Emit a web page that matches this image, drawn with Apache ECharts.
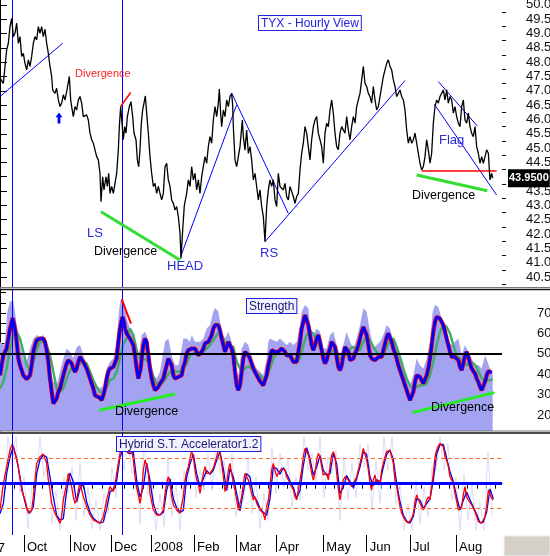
<!DOCTYPE html>
<html>
<head>
<meta charset="utf-8">
<title>TYX - Hourly View</title>
<style>
html, body { margin: 0; padding: 0; background: #fff; }
#main { width: 550px; height: 556px; }
</style>
<script src="https://cdn.jsdelivr.net/npm/echarts/dist/echarts.min.js"></script>
</head>
<body>
<div id="main"></div>
<script>
// x 轴单位：小时K线序号（0 ~ 1506）

// 价格（TYX 小时收盘）
var price = [[0,47.44],[10,47.26],[20,48.43],[25,48.66],[30,49.24],[35,49.53],[40,48.89],[45,49.01],[50,49.36],[55,48.66],[60,48.89],[65,48.20],[70,48.31],[75,47.96],[80,47.73],[85,48.08],[90,47.85],[95,48.20],[100,48.66],[105,48.89],[110,48.78],[115,49.24],[120,49.01],[125,49.24],[130,48.89],[135,49.15],[140,48.66],[145,48.31],[150,47.85],[155,47.50],[158,47.03],[165,46.91],[170,47.09],[175,46.68],[180,46.45],[185,46.57],[190,46.86],[195,46.68],[200,46.97],[205,47.03],[208,47.50],[212,46.68],[215,46.45],[220,46.10],[225,46.45],[230,46.33],[235,46.68],[240,46.80],[245,46.57],[250,46.10],[255,46.16],[260,46.16],[265,45.98],[270,45.52],[275,45.29],[280,45.17],[285,44.94],[290,44.70],[295,44.59],[300,44.12],[303,43.13],[308,44.00],[312,43.54],[318,44.00],[322,43.66],[326,44.12],[330,43.42],[335,43.66],[340,43.42],[345,43.77],[350,44.12],[355,44.94],[358,45.75],[362,46.45],[366,45.87],[370,45.29],[374,45.75],[378,45.52],[382,46.10],[388,46.45],[393,46.62],[398,46.10],[402,45.52],[408,45.29],[412,44.59],[416,44.35],[420,44.94],[424,45.87],[428,46.33],[432,46.57],[436,46.82],[440,46.22],[445,45.52],[450,44.70],[455,44.12],[460,43.66],[465,43.77],[470,43.42],[475,43.66],[480,43.42],[485,43.19],[490,43.42],[495,44.35],[500,44.47],[505,43.89],[510,43.66],[515,43.19],[520,43.07],[525,42.84],[530,42.96],[535,42.61],[540,42.03],[543,41.15],[548,42.14],[553,43.00],[560,43.42],[565,43.89],[570,43.66],[575,44.35],[580,43.89],[585,44.12],[590,43.54],[595,43.89],[600,43.42],[605,44.00],[610,44.35],[615,44.70],[620,44.47],[625,45.05],[630,45.40],[635,45.17],[640,45.98],[645,46.45],[650,46.10],[655,46.57],[658,47.06],[662,46.20],[665,45.75],[670,46.33],[675,46.10],[680,46.68],[685,46.45],[690,46.80],[695,46.91],[698,46.50],[700,45.75],[705,44.59],[710,44.35],[715,44.70],[720,45.05],[727,45.98],[730,45.40],[735,44.93],[740,45.63],[745,44.82],[750,45.05],[755,44.59],[760,43.89],[765,44.12],[770,43.66],[775,43.19],[780,43.54],[785,42.96],[790,42.61],[795,41.73],[800,42.96],[805,43.54],[810,43.89],[815,43.66],[820,43.89],[825,43.19],[830,42.96],[835,44.12],[840,43.66],[845,43.66],[850,43.54],[855,43.77],[860,43.31],[865,43.19],[870,43.66],[875,43.66],[880,43.31],[885,43.07],[890,43.31],[895,43.42],[900,44.24],[905,44.82],[910,45.17],[915,45.75],[920,45.52],[925,45.05],[930,44.59],[935,45.29],[940,45.75],[945,45.98],[950,46.10],[955,45.52],[960,45.29],[965,45.05],[970,44.47],[975,45.52],[980,45.87],[985,45.75],[990,46.33],[995,46.68],[1000,46.22],[1005,45.52],[1010,45.05],[1015,44.94],[1020,45.52],[1025,45.75],[1030,45.75],[1035,45.52],[1040,46.10],[1045,45.63],[1050,45.29],[1055,45.75],[1060,46.10],[1065,45.87],[1070,46.45],[1075,46.68],[1080,46.91],[1085,47.38],[1090,47.85],[1095,47.26],[1100,47.15],[1105,46.91],[1110,46.80],[1115,46.57],[1120,47.15],[1125,46.68],[1130,46.33],[1135,46.45],[1140,46.80],[1145,47.15],[1150,47.50],[1155,47.73],[1160,47.96],[1165,48.08],[1170,47.85],[1175,47.73],[1180,47.38],[1185,47.15],[1190,46.80],[1195,46.91],[1200,47.03],[1205,46.80],[1210,46.68],[1215,46.33],[1220,45.63],[1225,45.17],[1230,45.40],[1235,45.17],[1240,45.29],[1245,45.52],[1250,45.17],[1255,44.82],[1260,44.47],[1265,44.24],[1270,44.35],[1275,44.70],[1280,45.29],[1285,44.94],[1290,44.47],[1295,44.82],[1300,45.87],[1305,46.45],[1310,46.68],[1315,46.57],[1320,46.80],[1325,46.91],[1330,47.03],[1335,46.68],[1340,47.03],[1345,46.57],[1350,46.80],[1355,46.68],[1360,46.22],[1365,46.45],[1370,46.10],[1375,45.87],[1380,45.75],[1385,46.45],[1390,46.68],[1395,45.98],[1400,45.87],[1405,46.22],[1410,45.75],[1415,45.52],[1420,45.40],[1425,45.75],[1430,45.05],[1435,44.82],[1440,44.47],[1445,44.70],[1450,44.47],[1455,44.70],[1460,44.94],[1465,44.82],[1470,43.89],[1475,44.12],[1478,43.95]];
var lastPrice = 43.95;

// Strength 指标
var strengthArea = [[0,55.9],[10,54.3],[15,55.9],[22,70.6],[30,75.8],[40,75.8],[45,70.6],[50,64.1],[60,54.3],[70,47.7],[80,46.1],[90,52.6],[100,57.5],[110,59.2],[120,58.3],[130,59.2],[140,52.6],[150,44.4],[160,36.3],[170,34.6],[180,41.2],[190,47.7],[200,52.6],[210,51.0],[220,47.7],[230,53.4],[240,54.3],[250,49.3],[260,44.4],[270,41.2],[280,37.9],[290,34.6],[300,33.0],[310,34.6],[320,42.8],[330,46.1],[340,47.7],[350,55.9],[355,67.3],[360,75.5],[368,77.1],[375,73.9],[380,67.3],[390,62.4],[400,59.2],[410,51.0],[415,47.7],[425,59.2],[435,60.8],[440,59.2],[450,47.7],[460,39.5],[470,37.9],[480,41.2],[490,51.0],[495,55.9],[505,57.5],[515,49.3],[525,44.4],[535,44.4],[545,52.6],[550,57.5],[560,57.5],[570,55.9],[575,59.2],[585,55.9],[600,55.9],[610,57.5],[620,62.4],[630,64.1],[640,70.6],[645,72.6],[655,70.6],[665,60.8],[675,57.5],[685,60.8],[695,55.9],[705,44.4],[715,39.5],[725,52.6],[735,55.9],[745,54.3],[750,51.0],[760,46.1],[770,42.8],[780,41.2],[790,39.5],[800,47.7],[805,55.9],[810,57.5],[820,56.7],[830,55.9],[840,57.5],[850,55.9],[860,54.3],[870,55.9],[880,54.3],[890,55.9],[900,64.1],[905,70.6],[915,73.9],[925,72.2],[930,64.1],[940,59.2],[950,62.4],[960,60.8],[970,52.6],[980,52.6],[990,59.2],[1000,60.8],[1010,54.3],[1020,49.3],[1030,54.3],[1040,60.8],[1050,55.9],[1060,52.6],[1070,57.5],[1080,64.1],[1090,72.2],[1100,70.6],[1110,60.8],[1120,52.6],[1130,54.3],[1140,55.9],[1150,59.2],[1160,64.1],[1170,62.4],[1180,55.9],[1190,52.6],[1200,47.7],[1210,44.4],[1220,39.5],[1230,34.6],[1240,39.5],[1250,47.7],[1260,44.4],[1270,42.8],[1280,47.7],[1290,55.9],[1298,70.6],[1305,73.9],[1315,73.0],[1325,67.3],[1335,60.8],[1345,55.9],[1355,54.3],[1365,55.9],[1375,57.5],[1385,49.3],[1395,54.3],[1405,51.0],[1415,47.7],[1425,44.4],[1435,44.4],[1445,42.8],[1455,49.3],[1460,48.5],[1470,42.8],[1478,41.2]];
var strengthFast = [[0,39.5],[10,49.3],[20,52.6],[30,62.4],[38,67.6],[45,62.4],[50,55.9],[55,47.7],[60,44.4],[70,39.5],[80,37.6],[90,39.5],[95,44.4],[100,51.0],[105,54.3],[110,56.7],[120,57.5],[130,57.5],[135,55.9],[140,51.8],[145,46.1],[150,37.9],[155,31.4],[160,25.7],[165,25.7],[170,28.1],[175,31.4],[180,33.0],[190,39.5],[200,45.3],[205,46.9],[210,46.4],[215,45.3],[220,42.8],[225,41.2],[230,42.8],[235,46.1],[240,48.5],[245,49.3],[250,46.1],[260,42.8],[270,37.9],[280,33.0],[285,29.7],[290,28.9],[300,28.4],[305,27.3],[310,29.7],[315,33.0],[320,37.9],[325,41.2],[330,42.8],[335,42.8],[340,43.6],[345,44.4],[350,47.7],[355,55.9],[360,62.4],[365,66.5],[368,68.1],[372,65.7],[375,62.4],[380,60.0],[385,59.2],[390,57.5],[395,55.9],[400,54.3],[405,49.3],[410,42.8],[415,37.9],[418,37.1],[422,42.8],[425,47.7],[430,54.3],[435,57.5],[440,55.9],[445,49.3],[450,42.8],[455,37.9],[460,34.6],[465,32.2],[470,32.2],[475,33.8],[480,35.5],[485,36.3],[490,37.9],[495,41.2],[500,44.4],[505,47.7],[510,47.7],[515,44.4],[520,39.5],[525,37.9],[530,38.7],[535,38.7],[540,37.9],[545,39.5],[550,43.6],[555,46.1],[560,50.2],[565,51.8],[570,52.6],[575,52.6],[580,53.4],[585,52.6],[590,51.0],[595,49.3],[600,49.3],[605,51.0],[610,52.6],[615,55.1],[620,55.9],[625,55.9],[630,57.5],[635,59.2],[640,62.4],[645,64.1],[650,64.9],[655,64.1],[660,61.6],[665,57.5],[670,54.3],[675,51.0],[680,51.8],[685,55.9],[690,56.7],[695,52.6],[700,49.3],[705,41.2],[710,34.6],[715,32.2],[720,34.6],[725,41.2],[730,47.7],[735,51.0],[740,51.8],[745,49.3],[750,47.7],[760,42.8],[770,39.5],[780,36.6],[790,34.6],[795,35.5],[800,39.5],[805,44.4],[810,47.7],[815,51.8],[820,52.6],[825,51.0],[830,51.0],[835,51.0],[840,51.8],[845,52.6],[850,51.8],[855,51.0],[860,49.3],[865,48.5],[870,49.3],[875,47.7],[880,46.1],[885,45.3],[890,46.1],[895,51.0],[900,55.9],[905,62.4],[910,65.7],[915,69.0],[920,68.1],[925,64.1],[930,59.2],[935,54.3],[940,51.8],[945,54.3],[950,57.5],[955,59.2],[960,55.9],[965,51.8],[970,47.7],[975,45.3],[980,46.9],[985,50.2],[990,52.6],[995,55.9],[1000,55.9],[1005,53.4],[1010,48.5],[1015,43.6],[1020,42.0],[1025,44.4],[1030,49.3],[1035,53.4],[1040,54.3],[1045,51.0],[1050,46.9],[1055,46.1],[1060,47.7],[1065,50.2],[1070,51.8],[1075,54.3],[1080,57.5],[1085,60.8],[1090,63.2],[1095,62.4],[1100,59.2],[1105,54.3],[1110,49.3],[1115,47.7],[1120,47.7],[1125,46.9],[1130,47.7],[1135,48.5],[1140,47.7],[1145,48.5],[1150,51.8],[1155,55.1],[1160,58.3],[1165,60.0],[1170,59.2],[1175,55.9],[1180,52.6],[1185,50.2],[1190,47.7],[1195,44.4],[1200,42.0],[1205,39.5],[1210,37.1],[1215,34.6],[1220,32.2],[1225,29.7],[1230,27.3],[1235,27.3],[1240,31.4],[1245,36.3],[1250,39.5],[1255,40.4],[1260,38.7],[1265,37.1],[1270,35.5],[1275,36.3],[1280,39.5],[1285,42.8],[1290,47.7],[1295,54.3],[1300,60.8],[1305,65.7],[1310,68.1],[1315,68.1],[1320,67.3],[1325,65.7],[1330,64.1],[1335,60.8],[1340,57.5],[1345,54.3],[1350,51.0],[1355,48.5],[1360,47.7],[1365,48.5],[1370,49.3],[1375,46.9],[1380,43.6],[1385,42.0],[1390,45.3],[1395,49.3],[1400,51.0],[1405,48.5],[1410,45.3],[1415,42.8],[1420,42.0],[1425,40.4],[1430,37.9],[1435,36.3],[1440,33.8],[1445,32.2],[1450,33.0],[1455,36.3],[1460,39.5],[1465,41.5],[1470,41.2],[1475,40.9]];
var strengthSlow = [[0,33.0],[10,36.3],[20,42.8],[30,52.6],[40,59.2],[50,60.8],[60,57.5],[70,51.0],[80,44.4],[90,42.0],[100,46.1],[110,51.8],[120,55.9],[130,55.9],[140,54.3],[150,49.3],[160,41.2],[170,33.0],[180,31.4],[190,33.0],[200,37.9],[210,42.0],[220,43.6],[230,43.6],[240,45.3],[250,46.1],[260,45.3],[270,41.2],[280,37.1],[290,33.8],[300,31.4],[310,30.6],[320,33.8],[330,37.1],[340,37.9],[350,41.2],[360,47.7],[370,55.1],[380,57.5],[390,62.4],[395,62.4],[400,59.2],[410,51.8],[420,47.7],[430,47.7],[440,46.9],[450,44.4],[460,38.7],[470,35.5],[480,34.6],[490,36.3],[500,38.7],[510,41.2],[520,42.0],[530,41.2],[540,41.2],[550,42.8],[560,45.3],[570,49.3],[580,50.2],[590,51.0],[600,50.2],[610,51.0],[620,52.6],[630,54.3],[640,56.7],[650,59.2],[660,60.8],[670,57.5],[680,53.4],[690,54.3],[700,53.4],[710,46.1],[720,42.8],[730,42.0],[740,43.6],[750,43.6],[760,42.0],[770,40.4],[780,39.5],[790,37.6],[800,37.9],[810,42.8],[820,47.7],[830,50.2],[840,50.2],[850,50.2],[860,50.2],[870,49.3],[880,47.7],[890,46.1],[900,47.7],[910,54.3],[920,59.2],[930,60.8],[940,60.0],[950,56.7],[960,53.4],[970,50.2],[980,47.7],[990,50.2],[1000,51.8],[1010,51.0],[1020,47.7],[1030,47.7],[1040,51.0],[1050,52.6],[1060,53.4],[1070,51.8],[1080,51.8],[1090,55.9],[1100,59.2],[1110,56.7],[1120,53.4],[1130,51.0],[1140,49.3],[1150,49.3],[1160,53.4],[1170,56.7],[1180,57.5],[1190,53.4],[1200,48.5],[1210,42.8],[1220,37.9],[1230,34.6],[1240,33.0],[1250,33.8],[1260,34.6],[1270,34.6],[1280,35.5],[1290,39.5],[1300,46.1],[1310,54.3],[1320,60.8],[1330,64.1],[1340,63.2],[1350,60.0],[1360,54.3],[1370,49.3],[1380,47.7],[1390,46.1],[1400,44.4],[1410,46.1],[1420,45.3],[1430,43.6],[1440,39.5],[1450,37.1],[1460,37.1],[1470,37.1],[1478,37.6]];

// Hybrid S.T. Accelerator 1.2（无刻度，虚线位于 ±75）
var hybridRed = [[0,-79],[10,1],[20,51],[30,101],[37,119],[45,91],[55,51],[65,-19],[75,-49],[85,-89],[90,-84],[95,-79],[100,-39],[105,11],[110,61],[120,81],[130,89],[135,86],[140,61],[145,11],[150,-19],[155,-59],[165,-89],[175,-109],[180,-119],[185,-99],[190,-49],[200,1],[205,31],[210,36],[215,-9],[220,-39],[225,-59],[230,-49],[235,-19],[240,1],[245,1],[250,-39],[260,-69],[270,-94],[280,-109],[290,-114],[300,-119],[305,-124],[310,-99],[320,-49],[330,-9],[335,-14],[340,-24],[345,-4],[350,31],[355,61],[360,91],[365,106],[370,101],[375,101],[380,96],[385,91],[390,91],[395,101],[400,71],[405,21],[410,-14],[415,-34],[420,-59],[425,-29],[430,41],[435,71],[440,56],[445,31],[450,-29],[455,-54],[460,-79],[470,-94],[475,-94],[480,-94],[490,-79],[495,-29],[500,1],[505,21],[510,1],[515,-39],[520,-64],[525,-69],[530,-79],[540,-89],[545,-94],[550,-39],[555,11],[560,36],[565,51],[570,76],[575,96],[580,81],[585,41],[590,11],[595,1],[600,-29],[605,1],[610,31],[615,51],[620,31],[625,26],[630,31],[635,36],[640,46],[650,81],[655,101],[660,91],[665,61],[670,21],[675,-24],[680,-4],[685,41],[690,61],[695,31],[700,1],[705,-19],[710,-49],[715,-79],[720,-84],[725,-39],[730,1],[735,31],[740,36],[745,11],[750,11],[755,-29],[760,-49],[765,-39],[770,-59],[775,-69],[780,-79],[785,-84],[790,-89],[795,-109],[800,-69],[805,-49],[810,-9],[815,41],[820,61],[825,66],[830,21],[835,31],[840,31],[845,46],[850,51],[855,41],[860,21],[865,11],[870,6],[875,-9],[880,-19],[885,-39],[890,-49],[895,-19],[900,11],[905,41],[910,81],[915,106],[920,111],[925,86],[930,61],[935,31],[940,11],[945,31],[950,71],[955,91],[960,81],[965,51],[970,26],[975,21],[980,31],[985,11],[990,51],[995,86],[1000,96],[1005,81],[1010,31],[1015,-14],[1020,-49],[1025,-19],[1030,11],[1035,21],[1040,26],[1045,11],[1050,1],[1055,-9],[1060,-14],[1065,11],[1070,21],[1075,41],[1080,61],[1085,81],[1090,106],[1095,101],[1100,71],[1105,41],[1110,1],[1115,-19],[1120,11],[1125,26],[1130,1],[1135,11],[1140,-4],[1145,41],[1150,61],[1155,81],[1160,96],[1165,101],[1170,101],[1175,81],[1180,61],[1185,11],[1190,-9],[1195,-39],[1200,-69],[1205,-89],[1210,-99],[1215,-109],[1220,-114],[1225,-119],[1230,-114],[1235,-104],[1240,-89],[1245,-54],[1250,-34],[1255,-39],[1260,-59],[1265,-69],[1270,-79],[1275,-69],[1280,-49],[1285,-39],[1290,-49],[1295,-9],[1300,31],[1305,81],[1310,101],[1315,113],[1320,121],[1325,124],[1330,111],[1335,81],[1340,71],[1345,51],[1350,21],[1355,11],[1360,1],[1365,-29],[1370,-54],[1375,-79],[1380,-79],[1385,-69],[1390,-34],[1395,-9],[1400,-39],[1405,-49],[1410,-49],[1415,-64],[1420,-74],[1425,-84],[1430,-99],[1435,-114],[1440,-119],[1445,-119],[1450,-109],[1455,-99],[1460,-69],[1465,-19],[1470,-14],[1475,-44],[1480,-49]];
var hybridBlue = [[0,-90],[10,-60],[20,30],[30,80],[40,112],[50,75],[60,20],[70,-35],[80,-75],[90,-88],[100,-70],[110,30],[120,72],[130,86],[140,80],[150,20],[160,-40],[170,-95],[180,-110],[190,-105],[200,-20],[210,32],[220,5],[230,-55],[240,-15],[250,0],[260,-55],[270,-85],[280,-104],[290,-112],[300,-118],[310,-115],[320,-75],[330,-25],[340,-16],[350,10],[360,80],[370,104],[380,98],[390,90],[400,95],[410,10],[420,-40],[430,-10],[440,62],[450,10],[460,-60],[470,-90],[480,-94],[490,-86],[500,-20],[510,15],[520,-45],[530,-72],[540,-86],[550,-80],[560,20],[570,60],[580,88],[590,30],[600,-10],[610,15],[620,40],[630,28],[640,40],[650,70],[660,95],[670,45],[680,-20],[690,45],[700,20],[710,-30],[720,-82],[730,-25],[740,30],[750,20],[760,-35],[770,-50],[780,-74],[790,-86],[800,-95],[810,-45],[820,50],[830,45],[840,28],[850,48],[860,30],[870,8],[880,-12],[890,-44],[900,-20],[910,55],[920,108],[930,75],[940,25],[950,50],[960,85],[970,40],[980,25],[990,30],[1000,90],[1010,60],[1020,-30],[1030,-10],[1040,24],[1050,6],[1060,-12],[1070,15],[1080,50],[1090,95],[1100,88],[1110,20],[1120,-5],[1130,12],[1140,5],[1150,50],[1160,88],[1170,100],[1180,72],[1190,0],[1200,-55],[1210,-95],[1220,-112],[1230,-118],[1240,-98],[1250,-45],[1260,-50],[1270,-74],[1280,-60],[1290,-45],[1300,10],[1310,90],[1320,117],[1330,118],[1340,76],[1350,36],[1360,6],[1370,-40],[1380,-79],[1390,-50],[1400,-25],[1410,-49],[1420,-70],[1430,-92],[1440,-117],[1450,-115],[1460,-85],[1470,-16],[1480,-45]];
var hybridNoise = [[0,-20],[12,-40],[24,140],[36,60],[48,140],[60,-30],[72,20],[84,-135],[96,0],[108,-10],[120,140],[132,20],[144,80],[156,-120],[168,-20],[180,-140],[192,20],[204,-30],[216,50],[228,-110],[240,60],[252,-100],[264,-10],[276,-135],[288,-50],[300,-140],[312,-30],[324,-90],[336,50],[348,-40],[360,140],[372,40],[384,140],[396,30],[408,40],[420,-120],[432,130],[444,-30],[456,0],[468,-140],[480,-30],[492,-130],[504,80],[516,-100],[528,0],[540,-140],[552,40],[564,-10],[576,140],[588,-40],[600,40],[612,-20],[624,90],[636,-20],[648,140],[660,30],[672,70],[684,-20],[696,90],[708,-100],[720,-20],[732,-50],[744,80],[756,-90],[768,20],[780,-135],[792,-30],[804,-110],[816,110],[828,-30],[840,90],[852,-10],[864,75],[876,-70],[888,20],[900,-50],[912,140],[924,40],[936,90],[948,0],[960,140],[972,-40],[984,80],[996,30],[1008,100],[1020,-110],[1032,80],[1044,-50],[1056,60],[1068,-40],[1080,120],[1092,50],[1104,120],[1116,-80],[1128,70],[1140,-60],[1152,140],[1164,40],[1176,140],[1188,-60],[1200,0],[1212,-140],[1224,-60],[1236,-140],[1248,10],[1260,-120],[1272,-10],[1284,-100],[1296,50],[1308,40],[1320,140],[1332,40],[1344,120],[1356,-50],[1368,20],[1380,-140],[1392,30],[1404,-110],[1416,0],[1428,-140],[1440,-60],[1452,-140],[1464,96],[1476,-100]];

// 事件竖线、趋势线
var eventBars = [36, 366];
var blueTrends = [
    [[0, 46.80], [188, 48.66]],
    [[542, 41.21], [710, 46.51]],
    [[695, 46.92], [865, 42.72]],
    [[795, 41.73], [1215, 47.36]],
    [[1315, 47.32], [1432, 45.77]],
    [[1303, 46.53], [1490, 43.36]]
];
var greenTrends = [
    [[303, 42.78], [540, 41.09]],
    [[1250, 44.06], [1462, 43.51]]
];
var redTrends = [
    [[1265, 44.20], [1490, 44.20]],
    [[362, 46.45], [392, 46.94]]
];
var strengthGreen = [
    [[298, 22.4], [525, 30.3]],
    [[1237, 21.2], [1483, 31.0]]
];
var strengthRed = [[[365, 76.8], [393, 64.8]]];
var arrowAt = [177, 46.05];

// 坐标轴刻度
var priceTicks = [40.5, 41, 41.5, 42, 42.5, 43, 43.5, 44, 44.5, 45, 45.5, 46, 46.5, 47, 47.5, 48, 48.5, 49, 49.5, 50];
var priceMinorTicks = [40.25, 40.75, 41.25, 41.75, 42.25, 42.75, 43.25, 43.75, 44.25, 44.75, 45.25, 45.75, 46.25, 46.75, 47.25, 47.75, 48.25, 48.75, 49.25, 49.75];
var strengthTicks = [20, 30, 40, 50, 60, 70];
var strengthMinorTicks = [15, 20, 25, 30, 35, 40, 45, 50, 55, 60, 65, 70, 75, 80];
var monthBars = [72, 210, 333, 453, 582, 708, 828, 970, 1100, 1230, 1368];
var monthNames = ['Oct', 'Nov', 'Dec', '2008', 'Feb', 'Mar', 'Apr', 'May', 'Jun', 'Jul', 'Aug'];
var weekBars = [16, 44, 100, 128, 156, 184, 222, 250, 278, 306, 345, 373, 401, 429, 460, 488, 516, 544, 572, 610, 638, 666, 694, 722, 750, 778, 806, 835, 863, 891, 919, 947, 975, 1003, 1031, 1059, 1087, 1115, 1143, 1171, 1199, 1235, 1263, 1291, 1319, 1347, 1375, 1403, 1431, 1459, 1487];

var font = '"Liberation Sans", Arial, sans-serif';
var XMAX = 1506;

// 把线段数组转成 markLine 数据
function segs(list, style) {
    return list.map(function (s) {
        return [{ coord: s[0], lineStyle: style }, { coord: s[1] }];
    });
}
function vlines(style) {
    return eventBars.map(function (b) { return { xAxis: b, lineStyle: style }; });
}
function xAxisHidden(i) {
    return { type: 'value', gridIndex: i, min: 0, max: XMAX, show: false };
}
function label(text, x, y, color, size) {
    return {
        type: 'text', z: 100, x: x, y: y,
        style: { text: text, fill: color, fontSize: size, fontFamily: font, verticalAlign: 'top' }
    };
}
function box(text, x, y) {
    return {
        type: 'text', z: 100, x: x, y: y,
        style: {
            text: text, fill: '#1a1a70', fontSize: 12, fontFamily: font, verticalAlign: 'top',
            backgroundColor: '#f2f2ff', borderColor: '#1e1ee0', borderWidth: 1, padding: [2, 2, 0, 2]
        }
    };
}

var eventStyle = { color: '#0000ff', width: 1, type: 'solid' };
var labelBlue = '#2b2bd9';

var option = {
    animation: false,
    backgroundColor: '#fff',
    grid: [
        { left: 0, right: 48, top: 0, height: 287, containLabel: false, outerBoundsMode: 'none' },
        { left: 0, right: 48, top: 289, height: 142, containLabel: false, outerBoundsMode: 'none' },
        { left: 0, right: 48, top: 432, height: 103, containLabel: false, outerBoundsMode: 'none' }
    ],
    xAxis: [
        xAxisHidden(0),
        xAxisHidden(1),
        {
            type: 'value', gridIndex: 2, position: 'bottom', min: 0, max: XMAX,
            axisLine: { show: true, lineStyle: { color: '#000', width: 1 } },
            axisTick: { show: true, customValues: weekBars, length: 5, lineStyle: { color: '#000' } },
            axisLabel: { show: false }, splitLine: { show: false }
        },
        {
            type: 'value', gridIndex: 2, position: 'bottom', min: 0, max: XMAX,
            axisLine: { show: false },
            axisTick: { show: true, customValues: monthBars, length: 17, lineStyle: { color: '#000' } },
            axisLabel: {
                customValues: monthBars,
                formatter: function (v) { return monthNames[monthBars.indexOf(v)]; },
                align: 'left', padding: [0, 0, 0, 3], margin: 6,
                color: '#000', fontSize: 13, fontFamily: font
            },
            splitLine: { show: false }
        }
    ],
    yAxis: [
        {
            type: 'value', gridIndex: 0, position: 'right', min: 40.15, max: 50.17,
            axisLine: { show: true, lineStyle: { color: '#000' } },
            axisTick: { show: true, customValues: priceTicks, length: 7, lineStyle: { color: '#000' } },
            axisLabel: {
                customValues: priceTicks, formatter: function (v) { return v.toFixed(1); },
                margin: 24, color: '#111', fontSize: 13, fontFamily: font
            },
            splitLine: { show: false }
        },
        {
            type: 'value', gridIndex: 0, position: 'right', min: 40.15, max: 50.17,
            axisLine: { show: false },
            axisTick: { show: true, customValues: priceMinorTicks, length: 4, lineStyle: { color: '#000' } },
            axisLabel: { show: false }, splitLine: { show: false }
        },
        {
            type: 'value', gridIndex: 1, position: 'right', min: 12.2, max: 81.8,
            axisLine: { show: true, lineStyle: { color: '#000' } },
            axisTick: { show: true, customValues: strengthMinorTicks, length: 6, lineStyle: { color: '#000' } },
            axisLabel: {
                customValues: strengthTicks, margin: 35,
                color: '#111', fontSize: 13, fontFamily: font
            },
            splitLine: { show: false }
        },
        { type: 'value', gridIndex: 2, position: 'right', min: -154, max: 155, show: false },
        // 最新价标签
        {
            type: 'value', gridIndex: 0, position: 'right', min: 40.15, max: 50.17, z: 10,
            axisLine: { show: false }, axisTick: { show: false }, splitLine: { show: false },
            axisLabel: {
                customValues: [lastPrice], formatter: function (v) { return v.toFixed(4); },
                margin: 6, color: '#fff', backgroundColor: '#000', padding: [4, 1, 3, 1],
                fontSize: 11, fontWeight: 'bold', fontFamily: font
            }
        }
    ],
    series: [
        // 价格
        {
            type: 'line', xAxisIndex: 0, yAxisIndex: 0, data: price, z: 5,
            showSymbol: false, lineStyle: { color: '#000', width: 1.3 },
            markLine: {
                silent: true, symbol: ['none', 'none'], label: { show: false },
                data: vlines(eventStyle)
                    .concat(segs(blueTrends, { color: '#0000ff', width: 1, type: 'solid' }))
                    .concat(segs(greenTrends, { color: '#33dd33', width: 3, type: 'solid' }))
                    .concat(segs(redTrends, { color: '#ff0000', width: 1.5, type: 'solid' }))
            },
            markPoint: {
                silent: true,
                data: [{
                    coord: arrowAt, symbol: 'path://M5,0 L10,6 L7,6 L7,14 L3,14 L3,6 L0,6 Z',
                    symbolSize: [7, 11], itemStyle: { color: '#0000ff' }, label: { show: false }
                }]
            }
        },
        // Strength 背景面积
        {
            type: 'line', xAxisIndex: 1, yAxisIndex: 2, data: strengthArea, z: 1,
            showSymbol: false, lineStyle: { width: 0 },
            areaStyle: { color: '#a3a3f2', opacity: 1, origin: 'start' },
            markLine: {
                silent: true, symbol: ['none', 'none'], label: { show: false },
                data: [{ yAxis: 50, lineStyle: { color: '#000', width: 2, type: 'solid' } }]
            }
        },
        {
            type: 'line', xAxisIndex: 1, yAxisIndex: 2, data: strengthSlow, z: 2,
            showSymbol: false, lineStyle: { color: '#3fae6a', width: 2.5 }
        },
        {
            type: 'line', xAxisIndex: 1, yAxisIndex: 2, data: strengthFast, z: 3,
            showSymbol: false, lineStyle: { color: '#ff0000', width: 4.2 }
        },
        {
            type: 'line', xAxisIndex: 1, yAxisIndex: 2, data: strengthFast, z: 4,
            showSymbol: false, lineStyle: { color: '#0000ff', width: 2.8 },
            markLine: {
                silent: true, symbol: ['none', 'none'], label: { show: false },
                data: vlines(eventStyle)
                    .concat(segs(strengthGreen, { color: '#22ee22', width: 3, type: 'solid' }))
                    .concat(segs(strengthRed, { color: '#ff0000', width: 2, type: 'solid' }))
            }
        },
        // Hybrid
        {
            type: 'line', xAxisIndex: 2, yAxisIndex: 3, data: hybridNoise, z: 1,
            showSymbol: false, lineStyle: { color: '#dcdcf4', width: 1 },
            markLine: {
                silent: true, symbol: ['none', 'none'], label: { show: false },
                data: [
                    { yAxis: 0, lineStyle: { color: '#0000ff', width: 3, type: 'solid' } },
                    { yAxis: 75, lineStyle: { color: '#ff6a2a', width: 1, type: [4, 3] } },
                    { yAxis: -75, lineStyle: { color: '#ff6a2a', width: 1, type: [4, 3] } }
                ].concat(vlines(eventStyle))
            }
        },
        {
            type: 'line', xAxisIndex: 2, yAxisIndex: 3, data: hybridBlue, z: 3,
            showSymbol: false, lineStyle: { color: '#0000ee', width: 1.3 }
        },
        {
            type: 'line', xAxisIndex: 2, yAxisIndex: 3, data: hybridRed, z: 4,
            showSymbol: false, lineStyle: { color: '#ff0000', width: 1.3 }
        }
    ],
    graphic: [
        // 面板分隔线
        { type: 'line', z: 90, shape: { x1: 0, y1: 287.5, x2: 550, y2: 287.5 }, style: { stroke: '#777', lineWidth: 1 } },
        { type: 'line', z: 90, shape: { x1: 0, y1: 289.5, x2: 550, y2: 289.5 }, style: { stroke: '#111', lineWidth: 1.5 } },
        { type: 'line', z: 90, shape: { x1: 0, y1: 431, x2: 550, y2: 431 }, style: { stroke: '#777', lineWidth: 1 } },
        { type: 'line', z: 90, shape: { x1: 0, y1: 433, x2: 550, y2: 433 }, style: { stroke: '#111', lineWidth: 1.5 } },
        { type: 'rect', z: 90, shape: { x: 504, y: 536, width: 46, height: 20 }, style: { fill: '#d4d0c8', stroke: '#f0f0f0' } },
        { type: 'text', z: 100, x: 5, y: 542, style: { text: '7', fill: '#000', fontSize: 13, fontFamily: font, align: 'right', verticalAlign: 'top' } },
        // 标题框
        {
            type: 'text', z: 100, x: 259, y: 16,
            style: {
                text: 'TYX - Hourly View', fill: '#2222dd', fontSize: 12, fontFamily: font, verticalAlign: 'top',
                backgroundColor: '#fff', borderColor: '#2222dd', borderWidth: 1, padding: [2, 2, 0, 2]
            }
        },
        box('Strength', 247, 299),
        box('Hybrid S.T. Accelerator1.2', 117, 437),
        // 注释文字
        label('Divergence', 75, 68, '#ff2020', 11),
        label('LS', 87, 227, labelBlue, 13),
        label('Divergence', 94, 245, '#000', 12.5),
        label('HEAD', 167, 260, labelBlue, 13),
        label('RS', 260, 247, labelBlue, 13),
        label('Flag', 439, 134, labelBlue, 13),
        label('Divergence', 412, 189, '#000', 12.5),
        label('Divergence', 115, 405, '#000', 12.5),
        label('Divergence', 431, 401, '#000', 12.5)
    ]
};

var myechart = echarts.init(document.getElementById('main'));
myechart.setOption(option);
</script>
</body>
</html>
